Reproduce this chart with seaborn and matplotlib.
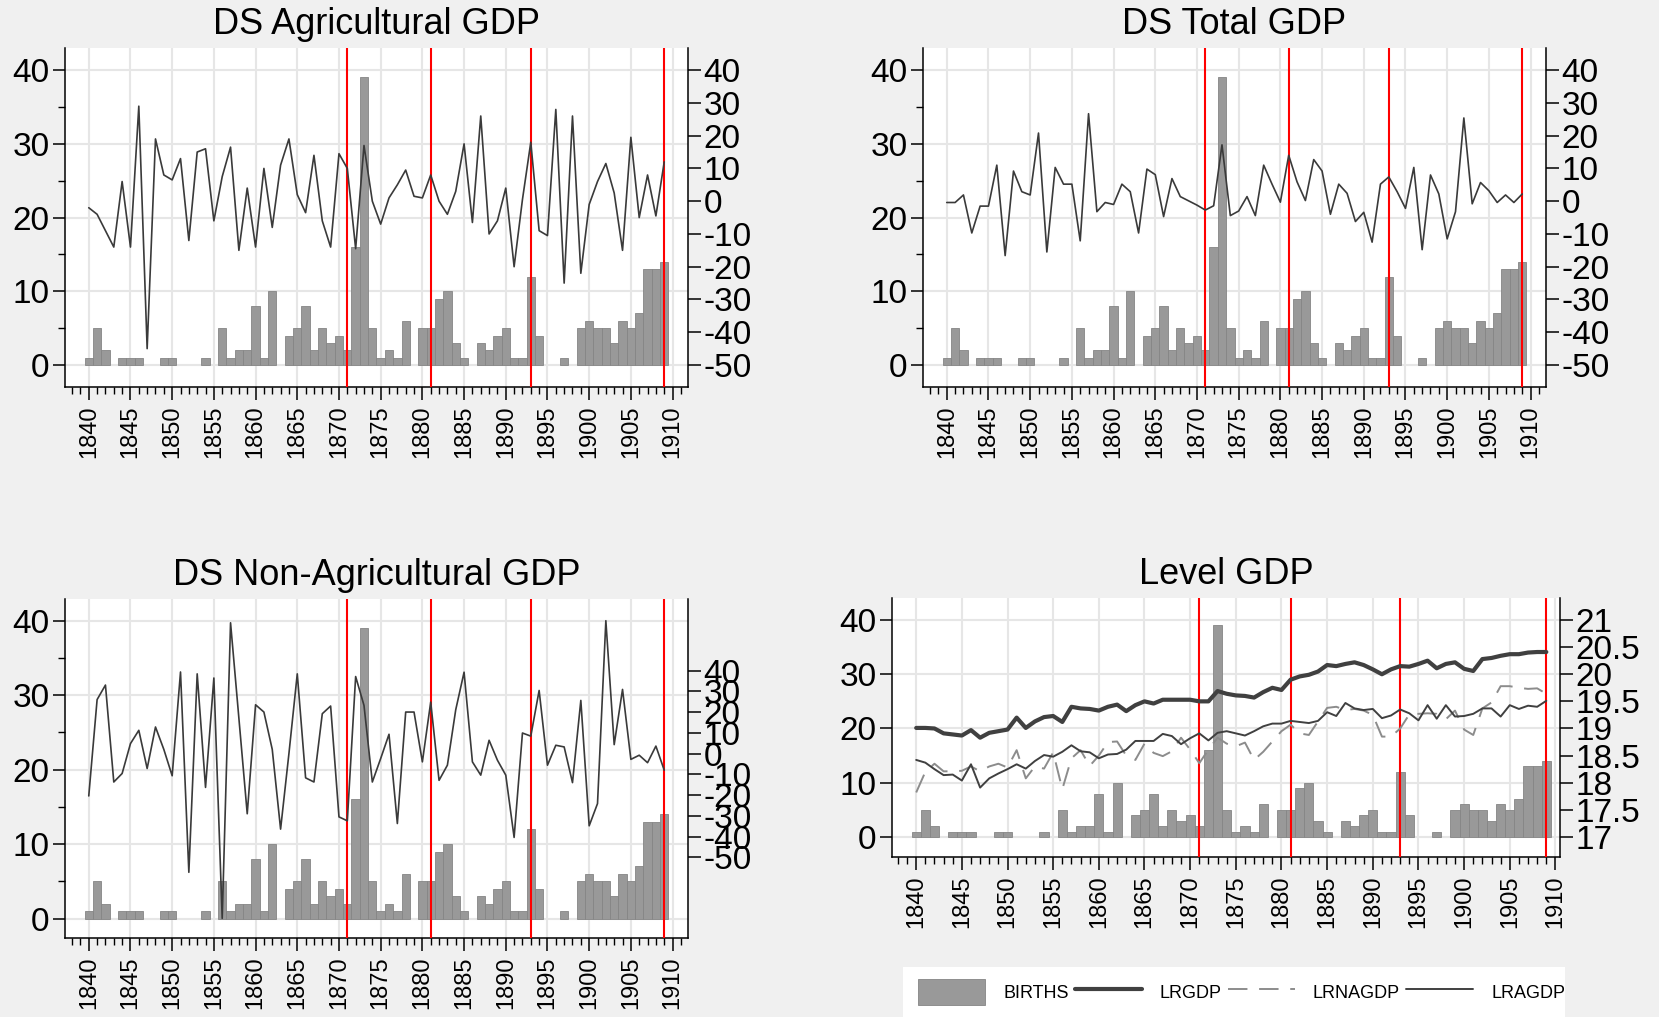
import numpy as np
import pandas as pd
import matplotlib
matplotlib.use('Agg')
import matplotlib.pyplot as plt
import seaborn as sns
from matplotlib.lines import Line2D
from matplotlib.patches import Patch
from matplotlib.ticker import MultipleLocator, FixedLocator, FuncFormatter

# ---- data ----
years = list(range(1840, 1910))

births = [1, 5, 2, 0, 1, 1, 1, 0, 0, 1,
          1, 0, 0, 0, 1, 0, 5, 1, 2, 2,
          8, 1, 10, 0, 4, 5, 8, 2, 5, 3,
          4, 2, 16, 39, 5, 1, 2, 1, 6, 0,
          5, 5, 9, 10, 3, 1, 0, 3, 2, 4,
          5, 1, 1, 12, 4, 0, 0, 1, 0, 5,
          6, 5, 5, 3, 6, 5, 7, 13, 13, 14]

ds_agr = [-2.0, -4.0, -9, -14, 6, -14, 29, -45, 19, 8,
          6.5, 13, -12, 15, 16, -6, 7.5, 16.5, -15, 4,
          -14, 10, -8, 11, 19, 2, -3.5, 14, -6, -14,
          14.5, 10, -14.5, 17, 0, -7, 1, 5, 9.5, 1.5,
          1, 8, 0, -4, 3, 17.5, -6.5, 26, -10, -6,
          4, -20, 0.5, 18, -9, -10.5, 28, -25, 26, -22,
          -1, 6, 11.5, 2.5, -15, 19.5, -5, 8, -4.5, 12]

ds_tot = [-0.4, -0.4, 1.9, -9.7, -1.5, -1.5, 11, -16.6, 9.2, 2.9,
          1.9, 20.8, -15.5, 10.3, 5.2, 5.2, -12.1, 26.7, -3.2, -0.4,
          -1.0, 5.2, 2.9, -9.7, 9.8, 8.1, -4.7, 6.9, 1.4, 0.1,
          -1.2, -2.7, -1.4, 17.2, -4.4, -3.0, 1.4, -4.4, 11, 5.2,
          -0.3, 14, 5.9, 0.2, 12.7, 9.2, -4, 5.2, 2.4, -6.2,
          -3.4, -12.5, 5.2, 7.4, 2.9, -2.2, 10.3, -14.8, 8, 2.2,
          -11.5, -3.2, 25.4, -0.8, 5.7, 3.2, -0.4, 1.9, -0.4, 2.2]

ds_nonagr = [-20.4, 26, 33, -13.7, -9.6, 4.8, 11.2, -7.2, 12.8, 2,
             -10.7, 39.3, -57.2, 38.4, -16.3, 36.4, -79.4, 63, 17, -29,
             23.5, 20, 2, -36.4, 0, 38.4, -11.7, -13.7, 19.2, 22.9,
             -30.5, -32.4, 37.1, 23.2, -13.7, -2.4, 9.3, -33.7, 20, 20,
             -4, 24.8, -12.9, -5.6, 21.1, 39.2, -4, -10.4, 6.4, -3.2,
             -10.4, -40.4, 9.9, 8.4, 30.4, -5.6, 4, 3.2, -14, 25.6,
             -34.8, -24.1, 64, 4.3, 30.9, -2.8, -0.8, -4.4, 3.6, -8]

lrgdp = [19.01, 19.01, 19.0, 18.91, 18.89, 18.87, 18.97, 18.83, 18.92, 18.95,
         18.98, 19.2, 19.01, 19.13, 19.21, 19.23, 19.12, 19.4, 19.37, 19.36,
         19.33, 19.4, 19.44, 19.32, 19.43, 19.5, 19.46, 19.53, 19.53, 19.53,
         19.53, 19.5, 19.5, 19.69, 19.64, 19.61, 19.6, 19.57, 19.67, 19.75,
         19.71, 19.9, 19.96, 19.99, 20.05, 20.17, 20.15, 20.19, 20.22, 20.17,
         20.09, 20.0, 20.09, 20.15, 20.14, 20.19, 20.25, 20.11, 20.19, 20.22,
         20.1, 20.06, 20.28, 20.3, 20.34, 20.37, 20.37, 20.4, 20.41, 20.41]

lrnagdp = [17.82, 18.2, 18.35, 18.21, 18.21, 18.22, 18.3, 18.21, 18.3, 18.35,
           18.28, 18.6, 18.08, 18.3, 18.26, 18.56, 17.88, 18.45, 18.6, 18.31,
           18.5, 18.75, 18.76, 18.5, 18.42, 18.72, 18.55, 18.49, 18.58, 18.83,
           18.61, 18.36, 18.61, 18.83, 18.72, 18.67, 18.74, 18.42, 18.57, 18.76,
           18.95, 19.07, 18.91, 18.88, 19.13, 19.38, 19.4, 19.34, 19.36, 19.33,
           19.25, 18.85, 18.85, 19.0, 19.26, 19.27, 19.28, 19.27, 19.17, 19.33,
           18.98, 18.88, 19.37, 19.48, 19.78, 19.78, 19.75, 19.73, 19.74, 19.64]

lragdp = [18.42, 18.37, 18.25, 18.14, 18.15, 18.04, 18.34, 17.91, 18.08, 18.17,
          18.25, 18.34, 18.26, 18.4, 18.51, 18.48, 18.57, 18.69, 18.58, 18.56,
          18.45, 18.52, 18.53, 18.61, 18.77, 18.77, 18.77, 18.9, 18.86, 18.71,
          18.82, 18.91, 18.78, 18.92, 18.95, 18.91, 18.87, 18.95, 19.04, 19.09,
          19.09, 19.14, 19.12, 19.1, 19.14, 19.3, 19.23, 19.47, 19.37, 19.34,
          19.36, 19.19, 19.24, 19.35, 19.28, 19.15, 19.43, 19.18, 19.43, 19.22,
          19.23, 19.27, 19.37, 19.37, 19.22, 19.43, 19.36, 19.42, 19.4, 19.51]

event_years = [1871, 1881, 1893, 1909]
titles = ['DS Agricultural GDP', 'DS Total GDP', 'DS Non-Agricultural GDP', 'Level GDP']
legend_labels = ['BIRTHS', 'LRGDP', 'LRNAGDP', 'LRAGDP']

# ---- style ----
sns.set_theme(style='ticks')
plt.rcParams['font.family'] = ['Liberation Sans', 'DejaVu Sans']
plt.rcParams['axes.unicode_minus'] = False
plt.rcParams['text.color'] = 'black'
plt.rcParams['axes.labelcolor'] = 'black'
plt.rcParams['xtick.color'] = 'black'
plt.rcParams['ytick.color'] = 'black'

BAR_COLOR = '#999999'
LINE_COLOR = '#3a3a3a'
GRID_COLOR = '#e6e6e6'
BG = '#f0f0f0'

W, H = 1659, 1017
fig = plt.figure(figsize=(W / 100, H / 100), dpi=100, facecolor=BG)


def rect(l, r, t, b):
    return [l / W, 1 - b / H, (r - l) / W, (b - t) / H]


bdf = pd.DataFrame({'year': years, 'births': births})
bdf = bdf[bdf['births'] > 0]


def base_panel(pos, title, xlim, ylim, minor_y=True):
    ax = fig.add_axes(pos)
    ax.set_facecolor('white')
    sns.barplot(data=bdf, x='year', y='births', native_scale=True, width=1.0,
                color=BAR_COLOR, saturation=1, errorbar=None,
                edgecolor='#858585', linewidth=0.6, ax=ax)
    ax.set_xlim(*xlim)
    ax.set_ylim(*ylim)
    ax.set_xlabel('')
    ax.set_ylabel('')
    ax.xaxis.set_major_locator(FixedLocator(list(range(1840, 1911, 5))))
    ax.xaxis.set_minor_locator(MultipleLocator(1))
    ax.xaxis.set_major_formatter(FuncFormatter(lambda v, p: f'{int(round(v))}'))
    ax.yaxis.set_major_locator(FixedLocator([0, 10, 20, 30, 40]))
    if minor_y:
        ax.yaxis.set_minor_locator(FixedLocator([5, 15, 25, 35]))
    ax.grid(True, which='major', color=GRID_COLOR, lw=1.5)
    ax.set_axisbelow(True)
    ax.tick_params(axis='x', which='major', length=9, width=1.1, labelsize=17,
                   labelrotation=90, pad=4, colors='black')
    ax.tick_params(axis='x', which='minor', length=5, width=1.0, colors='black')
    ax.tick_params(axis='y', which='major', length=9, width=1.1, labelsize=24,
                   pad=2, colors='black')
    ax.tick_params(axis='y', which='minor', length=5, width=1.0, colors='black')
    for s in ['left', 'bottom']:
        ax.spines[s].set_color('black')
        ax.spines[s].set_linewidth(1.1)
    ax.spines['top'].set_visible(False)
    ax.spines['right'].set_visible(False)
    ax.set_title(title, fontsize=26, pad=10, color='black')

    ax2 = ax.twinx()
    ax2.spines['top'].set_visible(False)
    ax2.spines['left'].set_visible(False)
    ax2.spines['bottom'].set_visible(False)
    ax2.spines['right'].set_color('black')
    ax2.spines['right'].set_linewidth(1.1)
    ax2.tick_params(axis='y', which='major', length=9, width=1.1, labelsize=24,
                    pad=2, colors='black')
    ax2.grid(False)
    for yr in event_years:
        ax2.axvline(yr, color='red', lw=1.5, zorder=1)
    return ax, ax2


# panels 1-3: births + detrended series
XL = (1837.15, 1911.85)
ds_panels = [
    (rect(65, 688, 48, 387), titles[0], ds_agr, (-2.98, 43.0)),
    (rect(923, 1546, 48, 387), titles[1], ds_tot, (-2.98, 43.0)),
    (rect(65, 688, 599, 938), titles[2], ds_nonagr, (-2.6, 42.9)),
]
for i, (pos, title, series, yl) in enumerate(ds_panels):
    ax, ax2 = base_panel(pos, title, XL, yl)
    sns.lineplot(x=years, y=series, ax=ax2, color=LINE_COLOR, linewidth=1.2, zorder=3)
    if i < 2:
        r_lo = 40 + 2.25 * (yl[0] - 40)
        r_hi = 40 + 2.25 * (yl[1] - 40)
    else:
        r_lo = 40 + 3.589 * (yl[0] - 33.30)
        r_hi = 40 + 3.589 * (yl[1] - 33.30)
    ax2.set_ylim(r_lo, r_hi)
    ax2.yaxis.set_major_locator(FixedLocator(list(range(-50, 41, 10))))
    ax2.set_ylabel('')

# panel 4: births + log levels
yl4 = (-3.7, 44.06)
ax, ax2 = base_panel(rect(892, 1560, 598, 857), titles[3], (1837.35, 1910.5), yl4,
                     minor_y=False)
sns.lineplot(x=years, y=lrgdp, ax=ax2, color='#404040', linewidth=3.0, zorder=3)
sns.lineplot(x=years, y=lrnagdp, ax=ax2, color='#8c8c8c', linewidth=1.4, zorder=3)
ax2.lines[-1].set_dashes([10, 6])
sns.lineplot(x=years, y=lragdp, ax=ax2, color='#404040', linewidth=1.4, zorder=3)
ax2.set_ylim(17 + yl4[0] / 10, 17 + yl4[1] / 10)
ax2.yaxis.set_major_locator(FixedLocator([17, 17.5, 18, 18.5, 19, 19.5, 20, 20.5, 21]))
ax2.yaxis.set_major_formatter(FuncFormatter(lambda v, p: f'{v:g}'))
ax2.set_ylabel('')

# legend box
lax = fig.add_axes(rect(903, 1565, 967, 1017))
lax.set_facecolor('white')
for s in lax.spines.values():
    s.set_visible(False)
lax.set_xticks([])
lax.set_yticks([])
handles = [
    Patch(facecolor=BAR_COLOR, edgecolor='#858585', linewidth=0.6),
    Line2D([], [], color='#404040', lw=3.0),
    Line2D([], [], color='#8c8c8c', lw=1.4, dashes=[10, 6]),
    Line2D([], [], color='#404040', lw=1.4),
]
lax.legend(handles, legend_labels, loc='center left', bbox_to_anchor=(0.012, 0.5),
           ncol=4, frameon=False, fontsize=13, handlelength=3.7, handleheight=1.8,
           handletextpad=1.0, columnspacing=0.35, borderaxespad=0,
           labelcolor='black')

fig.savefig('out.png', dpi=100, facecolor=BG)
